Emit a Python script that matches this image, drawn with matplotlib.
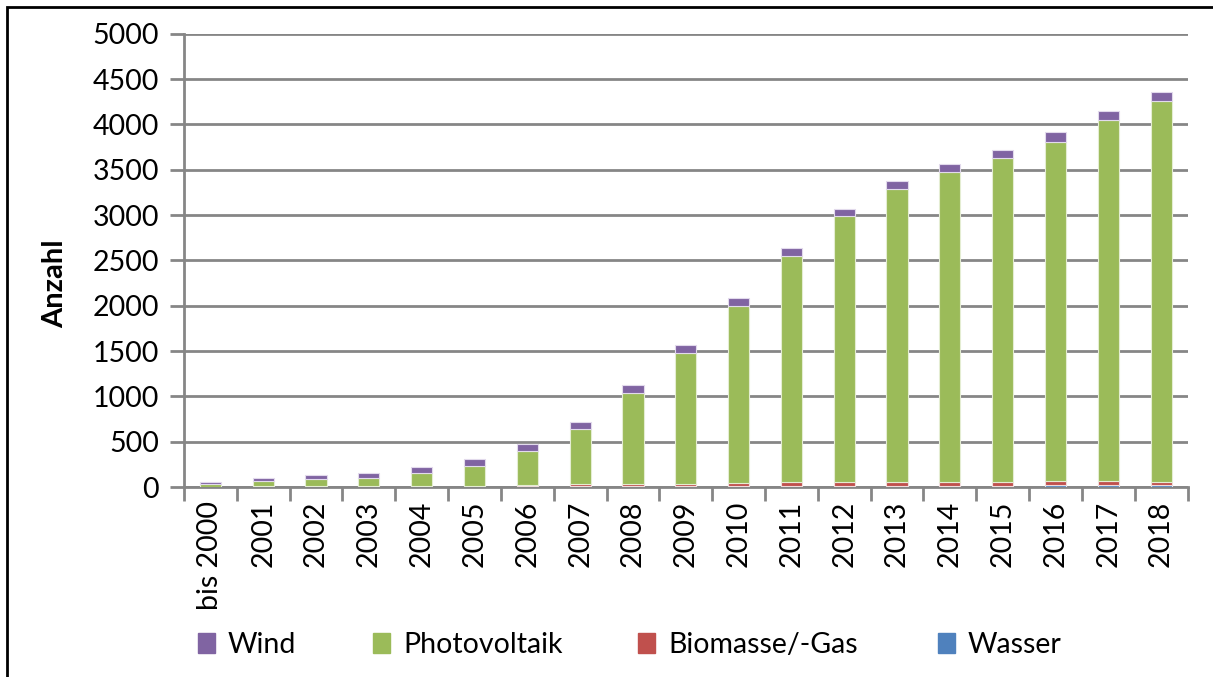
import numpy as np
import matplotlib.pyplot as plt
from matplotlib.patches import Rectangle

plt.rcParams['font.family'] = ['Lato', 'DejaVu Sans']

jahre = ['bis 2000', '2001', '2002', '2003', '2004', '2005', '2006', '2007', '2008', '2009',
         '2010', '2011', '2012', '2013', '2014', '2015', '2016', '2017', '2018']
wasser = [3, 4, 5, 5, 6, 6, 8, 10, 10, 12, 13, 14, 15, 15, 16, 16, 18, 18, 18]
biomasse = [2, 2, 3, 4, 5, 6, 10, 22, 25, 25, 30, 38, 44, 44, 43, 43, 52, 52, 42]
photovoltaik = [32, 60, 77, 87, 140, 217, 380, 604, 1006, 1440, 1957, 2501, 2926, 3232, 3416, 3567, 3742, 3985, 4198]
wind = [18, 37, 51, 62, 67, 77, 81, 81, 85, 88, 88, 87, 88, 89, 92, 96, 102, 92, 96]

farben = {'Wind': '#8064A2', 'Photovoltaik': '#9BBB59', 'Biomasse/-Gas': '#C0504D', 'Wasser': '#4F81BD'}
legende_x = [198, 373, 638, 938]  # linke Kante der Legendeneintraege in Pixel

fig = plt.figure(figsize=(12.13, 6.77), dpi=100)
ax = fig.add_axes([0.1517, 0.2806, 0.8273, 0.6694])

x = np.arange(len(jahre))
b = 0.4
ax.bar(x, wasser, b, color=farben['Wasser'], edgecolor='#dfe6f0', linewidth=0.8, zorder=3)
unten = np.array(wasser)
ax.bar(x, biomasse, b, bottom=unten, color=farben['Biomasse/-Gas'], edgecolor='#f0dcdc', linewidth=0.8, zorder=3)
unten = unten + np.array(biomasse)
ax.bar(x, photovoltaik, b, bottom=unten, color=farben['Photovoltaik'], edgecolor='#e4edd2', linewidth=0.8, zorder=3)
unten = unten + np.array(photovoltaik)
ax.bar(x, wind, b, bottom=unten, color=farben['Wind'], edgecolor='#e2daec', linewidth=0.8, zorder=3)

ax.set_xlim(-0.5, len(jahre) - 0.5)
ax.set_ylim(0, 5000)
ax.set_yticks(np.arange(0, 5001, 500))
ax.yaxis.grid(True, color='#868686', linewidth=2, zorder=0)
ax.set_axisbelow(True)

for s in ['top', 'right']:
    ax.spines[s].set_visible(False)
for s in ['left', 'bottom']:
    ax.spines[s].set_color('#868686')
    ax.spines[s].set_linewidth(2)

# Striche zwischen den Kategorien
ax.set_xticks(np.arange(-0.5, len(jahre), 1), minor=False)
ax.set_xticklabels([])
ax.set_xticks(x, minor=True)
ax.set_xticklabels(jahre, minor=True, rotation=90, fontsize=20.5, va='top')
ax.tick_params(axis='x', which='major', length=10, width=2, color='#868686', direction='out')
ax.tick_params(axis='x', which='minor', length=0, pad=10)
ax.tick_params(axis='y', length=10, width=2, color='#868686', labelsize=20.5, pad=8)

ax.set_ylabel('Anzahl', fontsize=21, fontweight='bold')
ax.yaxis.set_label_coords(-0.1155, 0.449)

# Legende
for (name, farbe), lx in zip(farben.items(), legende_x):
    fig.legend([Rectangle((0, 0), 1, 1, color=farbe)], [name], loc='center left',
               bbox_to_anchor=(lx / 1213, 1 - 645 / 677), frameon=False, fontsize=20.5,
               handlelength=0.6, handleheight=0.7, handletextpad=0.45, borderpad=0,
               borderaxespad=0)

# Rahmen
fig.add_artist(Rectangle((7 / 1213, -0.1), 1.2, 1 - 7 / 677 + 0.1, transform=fig.transFigure,
                         fill=False, edgecolor='black', linewidth=2))

fig.savefig('out.png', dpi=100)
